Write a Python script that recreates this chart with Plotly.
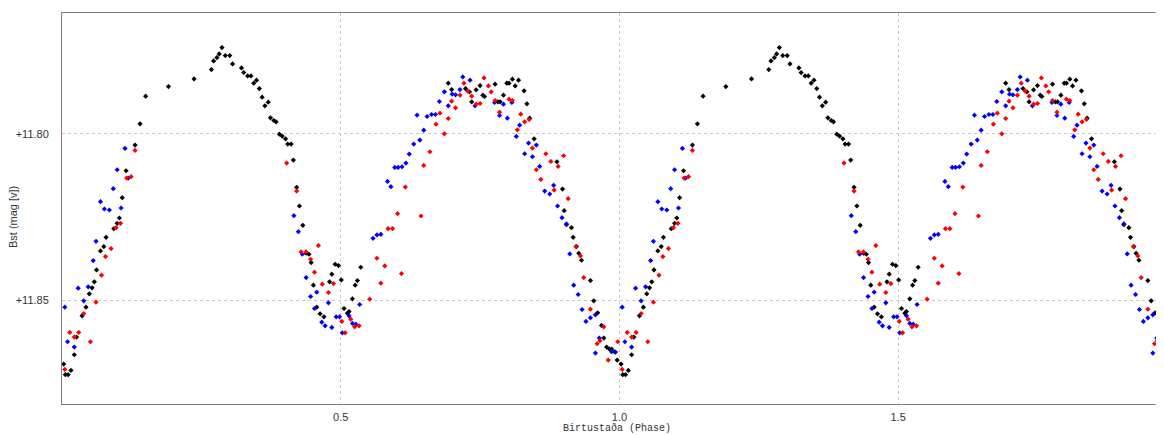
import numpy as np
import plotly.graph_objects as go

# Phase-folded light curve (phase 0-1), plotted twice (0-2)
black_phase = [0.003, 0.006, 0.011, 0.016, 0.022, 0.026, 0.036, 0.043, 0.049, 0.054, 0.058, 0.062, 0.069,
               0.075, 0.079, 0.093, 0.099, 0.103, 0.108, 0.115, 0.131, 0.140, 0.150, 0.191, 0.237, 0.268,
               0.272, 0.278, 0.282, 0.287, 0.293, 0.301, 0.306, 0.322, 0.326, 0.333, 0.339, 0.344, 0.349,
               0.354, 0.359, 0.364, 0.370, 0.374, 0.380, 0.384, 0.390, 0.395, 0.401, 0.405, 0.411, 0.415,
               0.421, 0.426, 0.432, 0.438, 0.443, 0.447, 0.451, 0.457, 0.463, 0.470, 0.480, 0.484, 0.490,
               0.496, 0.501, 0.506, 0.512, 0.515, 0.521, 0.526, 0.530, 0.536, 0.693, 0.699, 0.724, 0.731,
               0.735, 0.743, 0.750, 0.755, 0.758, 0.777, 0.782, 0.786, 0.792, 0.798, 0.802, 0.808, 0.813,
               0.819, 0.829, 0.834, 0.839, 0.847, 0.888, 0.898, 0.901, 0.905, 0.914, 0.917, 0.923, 0.927,
               0.932, 0.948, 0.954, 0.961, 0.968, 0.972, 0.977, 0.982, 0.986, 0.991, 0.996]
black_mag = [11.8692, 11.8724, 11.8724, 11.8711, 11.8664, 11.8611, 11.8547, 11.8521, 11.8481, 11.8463,
             11.8445, 11.8409, 11.8352, 11.8339, 11.8311, 11.8285, 11.8269, 11.8253, 11.8192, 11.8111,
             11.8034, 11.7970, 11.7887, 11.7858, 11.7835, 11.7807, 11.7781, 11.7771, 11.7760, 11.7741,
             11.7765, 11.7765, 11.7790, 11.7802, 11.7816, 11.7826, 11.7826, 11.7848, 11.7839, 11.7864,
             11.7890, 11.7916, 11.7905, 11.7952, 11.7960, 11.7964, 11.8001, 11.8007, 11.8015, 11.8031,
             11.8031, 11.8079, 11.8161, 11.8217, 11.8275, 11.8359, 11.8362, 11.8387, 11.8455, 11.8521,
             11.8541, 11.8550, 11.8445, 11.8422, 11.8392, 11.8396, 11.8439, 11.8525, 11.8539, 11.8534,
             11.8496, 11.8455, 11.8441, 11.8401, 11.7848, 11.7867, 11.7864, 11.7874, 11.7904, 11.7868,
             11.7855, 11.7884, 11.7888, 11.7851, 11.7904, 11.7904, 11.7884, 11.7848, 11.7848, 11.7836,
             11.7856, 11.7839, 11.7871, 11.7910, 11.7953, 11.8015, 11.8084, 11.8166, 11.8231, 11.8273,
             11.8282, 11.8311, 11.8339, 11.8359, 11.8380, 11.8441, 11.8502, 11.8538, 11.8576, 11.8614,
             11.8641, 11.8647, 11.8647, 11.8655, 11.8680]

red_phase = [0.005, 0.014, 0.022, 0.030, 0.039, 0.051, 0.061, 0.071, 0.078, 0.088, 0.097, 0.105, 0.116,
             0.124, 0.131, 0.403, 0.421, 0.429, 0.438, 0.446, 0.453, 0.460, 0.467, 0.478, 0.487, 0.502,
             0.508, 0.518, 0.525, 0.533, 0.552, 0.565, 0.572, 0.579, 0.585, 0.593, 0.602, 0.609, 0.616,
             0.644, 0.649, 0.660, 0.671, 0.678, 0.686, 0.693, 0.699, 0.706, 0.714, 0.721, 0.728, 0.735,
             0.743, 0.750, 0.757, 0.765, 0.770, 0.777, 0.785, 0.802, 0.808, 0.817, 0.823, 0.830, 0.838,
             0.844, 0.851, 0.859, 0.868, 0.877, 0.883, 0.890, 0.900, 0.908, 0.922, 0.930, 0.936, 0.948,
             0.960, 0.965, 0.972, 0.980, 0.997]
red_mag = [11.8708, 11.8597, 11.8611, 11.8597, 11.8540, 11.8625, 11.8506, 11.8425, 11.8369, 11.8345,
           11.8282, 11.8269, 11.8133, 11.8129, 11.8050, 11.8088, 11.8172, 11.8355, 11.8355, 11.8377,
           11.8416, 11.8336, 11.8452, 11.8477, 11.8450, 11.8564, 11.8598, 11.8557, 11.8580, 11.8577,
           11.8497, 11.8374, 11.8449, 11.8397, 11.8285, 11.8285, 11.8240, 11.8420, 11.8160, 11.8247,
           11.8095, 11.8054, 11.7971, 11.7938, 11.8000, 11.7954, 11.7902, 11.7922, 11.7884, 11.7848,
           11.7872, 11.7887, 11.7911, 11.7909, 11.7832, 11.7856, 11.7874, 11.7900, 11.7935, 11.7896,
           11.7900, 11.7988, 11.7941, 11.7964, 11.7957, 11.8043, 11.8108, 11.8137, 11.8060, 11.8083,
           11.8169, 11.8098, 11.8066, 11.8195, 11.8339, 11.8367, 11.8432, 11.8527, 11.8631, 11.8622,
           11.8580, 11.8680, 11.8625]

blue_phase = [0.005, 0.010, 0.022, 0.029, 0.039, 0.047, 0.056, 0.061, 0.069, 0.076, 0.085, 0.092, 0.099,
              0.106, 0.113, 0.119, 0.416, 0.424, 0.431, 0.438, 0.446, 0.453, 0.457, 0.466, 0.472, 0.478,
              0.484, 0.492, 0.498, 0.503, 0.515, 0.521, 0.527, 0.534, 0.558, 0.565, 0.572, 0.584, 0.590,
              0.597, 0.603, 0.610, 0.617, 0.623, 0.631, 0.637, 0.642, 0.649, 0.655, 0.663, 0.670, 0.677,
              0.686, 0.693, 0.700, 0.706, 0.714, 0.719, 0.732, 0.741, 0.776, 0.785, 0.792, 0.799, 0.807,
              0.815, 0.821, 0.830, 0.837, 0.844, 0.851, 0.857, 0.866, 0.875, 0.882, 0.889, 0.897, 0.905,
              0.911, 0.918, 0.926, 0.933, 0.940, 0.948, 0.957, 0.957, 0.964, 0.986, 0.993]
blue_mag = [11.8521, 11.8625, 11.8641, 11.8464, 11.8502, 11.8460, 11.8381, 11.8323, 11.8204, 11.8226,
            11.8229, 11.8165, 11.8108, 11.8223, 11.8044, 11.8133, 11.8246, 11.8294, 11.8362, 11.8432,
            11.8489, 11.8525, 11.8476, 11.8566, 11.8577, 11.8508, 11.8582, 11.8550, 11.8550, 11.8598,
            11.8547, 11.8570, 11.8572, 11.8513, 11.8314, 11.8304, 11.8302, 11.8143, 11.8159, 11.8101,
            11.8101, 11.8099, 11.8088, 11.8061, 11.8031, 11.7944, 11.8019, 11.7989, 11.7948, 11.7942,
            11.7942, 11.7903, 11.7874, 11.7916, 11.7881, 11.7883, 11.7867, 11.7829, 11.7839, 11.7916,
            11.7906, 11.7945, 11.7911, 11.7953, 11.7906, 11.8008, 11.7974, 11.8060, 11.8028, 11.8069,
            11.8034, 11.8098, 11.8172, 11.8181, 11.8155, 11.8217, 11.8252, 11.8271, 11.8361, 11.8455,
            11.8483, 11.8528, 11.8564, 11.8553, 11.8544, 11.8659, 11.8614, 11.8655, 11.8656]

x_tick_vals = [0.5, 1.0, 1.5]
x_tick_text = ["0.5", "1.0", "1.5"]
y_tick_vals = [11.80, 11.85]
y_tick_text = ["+11.80", "+11.85"]
x_title = "Birtustaða (Phase)"
y_title = "Bst (mag [v])"

fig = go.Figure()
for ph, mg, col in [(black_phase, black_mag, "#000000"),
                    (blue_phase, blue_mag, "#0000ff"),
                    (red_phase, red_mag, "#ff0000")]:
    ph = np.array(ph)
    mg = np.array(mg)
    fig.add_trace(go.Scatter(
        x=np.concatenate([ph, ph + 1.0]), y=np.concatenate([mg, mg]),
        mode="markers", showlegend=False,
        marker=dict(symbol="diamond", size=4, color=col, line=dict(width=0)),
    ))

tick_font = dict(family="Liberation Sans Narrow, Arial Narrow, sans-serif", size=11, color="#333333")

# The page body adds an 8px offset, so the figure is sized to fit the 1164x435 window.
fig.update_layout(
    width=1156, height=427,
    margin=dict(l=54, r=0, t=5, b=31, autoexpand=False),
    paper_bgcolor="white", plot_bgcolor="white",
    showlegend=False,
    annotations=[
        dict(text=x_title, xref="paper", yref="paper", x=0.5036, y=-0.062,
             xanchor="center", yanchor="middle", showarrow=False,
             font=dict(family="Liberation Mono, Courier New, monospace", size=10, color="#333333")),
        dict(text=y_title, xref="paper", yref="paper", x=-0.0445, y=0.478, textangle=-90,
             xanchor="center", yanchor="middle", showarrow=False,
             font=dict(family="Liberation Sans, Arial, sans-serif", size=11, color="#333333")),
    ],
)
fig.update_xaxes(
    range=[0, 1.977], tickvals=x_tick_vals, ticktext=x_tick_text, automargin=False,
    showgrid=True, gridcolor="#c8c8c8", griddash="3px,3px", gridwidth=1,
    zeroline=False, showline=True, linecolor="#808080", linewidth=1, mirror=True,
    ticks="", ticklabelstandoff=3, tickfont=tick_font,
)
fig.update_yaxes(
    range=[11.8812, 11.7637], tickvals=y_tick_vals, ticktext=y_tick_text, automargin=False,
    showgrid=True, gridcolor="#c8c8c8", griddash="3px,3px", gridwidth=1,
    zeroline=False, showline=True, linecolor="#808080", linewidth=1,
    ticks="", ticklabelstandoff=10, tickfont=tick_font,
)

fig.write_html("out.html")
